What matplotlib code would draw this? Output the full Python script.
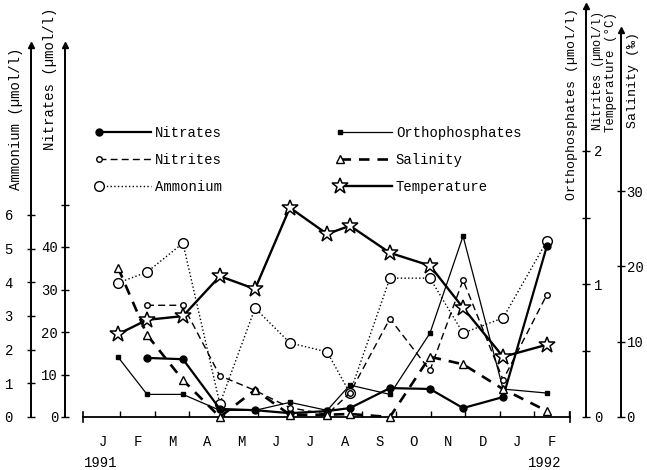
import numpy as np
import matplotlib
matplotlib.use("Agg")
import matplotlib.pyplot as plt
from matplotlib.lines import Line2D
from matplotlib.legend_handler import HandlerLine2D

plt.rcParams["font.family"] = ["Liberation Mono", "DejaVu Sans Mono"]
plt.rcParams["font.size"] = 10

# sampling dates, months counted from 1 Jan 1991
sample_month = [0.93, 1.77, 2.81, 3.88, 4.90, 5.91, 6.99, 7.65, 8.81, 9.97, 10.93, 12.09, 13.36]

nitrates = [np.nan, 13.9, 13.6, 1.9, 1.6, 0.9, 1.4, 2.1, 6.8, 6.6, 2.1, 4.7, 40.2]
nitrites = [np.nan, 0.84, 0.84, 0.31, 0.20, 0.07, 0.02, 0.18, 0.74, 0.35, 1.03, 0.28, 0.92]
ammonium = [3.98, 4.30, 5.16, 0.39, 3.23, 2.20, 1.93, 0.71, 4.12, 4.12, 2.49, 2.94, 5.22]
orthophosphates = [0.45, 0.17, 0.17, 0.05, 0.05, 0.11, 0.05, 0.24, 0.17, 0.63, 1.36, 0.21, 0.18]
salinity = [19.8, 10.9, 4.9, 0.0, 3.6, 0.3, 0.3, 0.4, 0.0, 8.0, 7.0, 3.7, 0.8]
temperature = [11.0, 12.9, 13.4, 18.7, 17.0, 27.8, 24.3, 25.4, 21.8, 20.1, 14.5, 8.0, 9.6]

month_labels = ["J", "F", "M", "A", "M", "J", "J", "A", "S", "O", "N", "D", "J", "F"]

W, H = 647, 470
X0, X1 = 83, 570      # pixel extent of the time axis
Y0, YT = 417, 8       # zero line and top of the plotting box
AH = Y0 - YT


def fx(px):
    return px / W


def fy(py):
    return 1 - py / H


fig = plt.figure(figsize=(6.47, 4.70), dpi=100)
ax = fig.add_axes([fx(X0), fy(Y0), fx(X1) - fx(X0), fy(YT) - fy(Y0)])
ax.set_xlim(-0.087, 14.03)
ax.set_ylim(0, 1)
ax.set_yticks([])
for s in ["left", "right", "top"]:
    ax.spines[s].set_visible(False)
ax.spines["bottom"].set_linewidth(1.3)
ax.set_xticks(np.arange(1, 15))
ax.set_xticklabels([])
ax.set_xticks(np.arange(14) + 0.5, minor=True)
ax.set_xticklabels(month_labels, minor=True)
ax.tick_params(axis="x", which="major", direction="in", length=4, width=1)
ax.tick_params(axis="x", which="minor", length=0, pad=13)
for xe in ax.get_xlim():
    ax.axvline(xe, ymin=-0.012, ymax=0.012, color="k", lw=1.2, clip_on=False)


def side_axis(px, side, scale, top_px, ticks, labels, pad):
    tw = ax.twinx()
    tw.set_ylim(0, AH / scale)
    for s in tw.spines.values():
        s.set_visible(False)
    sp = tw.spines[side]
    sp.set_visible(True)
    sp.set_linewidth(1.4)
    frac = (px - X0) / (X1 - X0)
    sp.set_position(("axes", frac))
    top = (Y0 - top_px) / scale
    sp.set_bounds(0, top)
    tw.yaxis.set_ticks_position(side)
    tw.set_yticks(ticks)
    tw.set_yticklabels(labels)
    tw.tick_params(axis="y", direction="inout", length=6, width=1, pad=pad)
    tw.plot([frac], [top], marker="^", color="k", ms=5,
            transform=tw.get_yaxis_transform(), clip_on=False)
    return tw


ax_amm = side_axis(31, "left", 33.7, 45, range(7), [str(i) for i in range(7)], 10)
ax_nit = side_axis(65, "left", 4.25, 45, range(0, 60, 10),
                   ["0", "10", "20", "30", "40", ""], 2)
ax_pho = side_axis(586, "right", 133, 6, [0, 0.5, 1, 1.5, 2],
                   ["0", "", "1", "", "2"], 3)
ax_sal = side_axis(621, "right", 7.53, 30, [0, 10, 20, 30],
                   ["0", "10", "20", "30"], 1)

l_nit, = ax_nit.plot(sample_month, nitrates, color="k", lw=1.6, marker="o", ms=5,
                     label="Nitrates")
l_pho, = ax_pho.plot(sample_month, orthophosphates, color="k", lw=0.9, marker="s",
                     ms=3, label="Orthophosphates")
l_ntr, = ax_pho.plot(sample_month, nitrites, color="k", lw=1.0, ls=(0, (5, 3)),
                     marker="o", ms=4, mfc="white", label="Nitrites")
l_sal, = ax_sal.plot(sample_month, salinity, color="k", lw=1.9, ls=(0, (4, 3)),
                     marker="^", ms=6, mfc="white", label="Salinity")
l_amm, = ax_amm.plot(sample_month, ammonium, color="k", lw=1.0, ls=":",
                     marker="o", ms=7, mfc="white", label="Ammonium")
l_tmp, = ax_sal.plot(sample_month, temperature, color="k", lw=1.7, marker="*",
                     ms=12, mfc="white", mew=1.1, label="Temperature")
for ln in [l_nit, l_pho, l_ntr, l_sal, l_amm, l_tmp]:
    ln.set_clip_on(False)


class LeftMarker(HandlerLine2D):
    # put the legend marker at the start of the sample line
    def create_artists(self, *args, **kwargs):
        artists = super().create_artists(*args, **kwargs)
        for a in artists:
            a.set_markevery([0])
        return artists


handles = [l_nit, l_ntr, l_amm, l_pho, l_sal, l_tmp]
fig.legend(handles, [h.get_label() for h in handles], ncol=2, loc="upper left",
           bbox_to_anchor=(fx(99), fy(126)), frameon=False, handlelength=3.75,
           handletextpad=0.3, columnspacing=8.45, labelspacing=0.93,
           borderpad=0, borderaxespad=0, fontsize=10,
           handler_map={Line2D: LeftMarker()})

# axis titles
fig.text(fx(16), fy(190), "Ammonium (µmol/l)", rotation=90, ha="center", va="bottom")
fig.text(fx(50), fy(150), "Nitrates (µmol/l)", rotation=90, ha="center", va="bottom")
fig.text(fx(572), fy(200), "Orthophosphates (µmol/l)", rotation=90, ha="center",
         va="bottom", fontsize=9.5)
fig.text(fx(598), fy(130), "Nitrites (µmol/l)", rotation=90, ha="center", va="bottom",
         fontsize=8.5)
fig.text(fx(611), fy(132), "Temperature (°C)", rotation=90, ha="center", va="bottom",
         fontsize=9)
fig.text(fx(633), fy(128), "Salinity (‰)", rotation=90, ha="center", va="bottom",
         fontsize=9.5)

fig.text(fx(84), fy(463), "1991", ha="left", va="center")
fig.text(fx(528), fy(463), "1992", ha="left", va="center")

fig.savefig("out.png", dpi=100)
